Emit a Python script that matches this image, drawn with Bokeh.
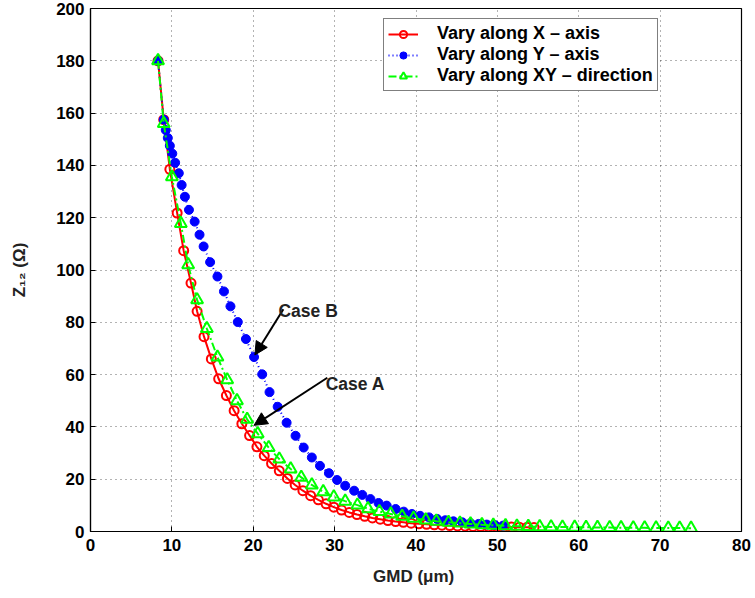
from bokeh.plotting import figure
from bokeh.models import Range1d, Legend, LegendItem, Arrow, NormalHead, Label, FixedTicker
from bokeh.embed import file_html
from bokeh.resources import INLINE

# ---- data ----
x_ticks = [0, 10, 20, 30, 40, 50, 60, 70, 80]
y_ticks = [0, 20, 40, 60, 80, 100, 120, 140, 160, 180, 200]

gmd_x = [8.3, 9.0, 9.75, 10.65, 11.45, 12.35, 13.1, 13.95, 14.85, 15.75, 16.7, 17.65, 18.6,
         19.55, 20.45, 21.35, 22.25, 23.2, 24.2, 25.15, 26.1, 27.05, 28.0, 28.95, 29.9, 30.85,
         31.8, 32.75, 33.7, 34.65, 35.6, 36.55, 37.5, 38.45, 39.4, 40.35, 41.3, 42.25, 43.2,
         44.15, 45.1, 46.05, 47.0, 47.95, 48.9, 49.85, 50.8, 51.75, 52.7, 53.65, 54.5]
z_x = [180, 157.5, 138.5, 121.8, 107.4, 95.0, 84.2, 74.5, 66.0, 58.4, 52.0, 46.2, 41.2,
       36.7, 32.4, 29.0, 26.0, 23.2, 20.3, 17.8, 15.6, 13.7, 12.1, 10.6, 9.3, 8.2,
       7.3, 6.5, 5.8, 5.2, 4.7, 4.2, 3.8, 3.5, 3.2, 2.95, 2.75, 2.55, 2.4,
       2.25, 2.15, 2.05, 1.95, 1.9, 1.85, 1.8, 1.75, 1.7, 1.65, 1.6, 1.55]

gmd_y = [8.3, 9.0, 9.25, 9.5, 9.75, 10.05, 10.4, 10.85, 11.2, 11.6, 12.1, 12.8, 13.4, 13.9,
         14.7, 15.6, 16.4, 17.2, 18.1, 19.1, 20.1, 21.1, 22.0, 23.0, 24.1, 25.2, 26.2, 27.2,
         28.2, 29.3, 30.3, 31.3, 32.4, 33.4, 34.4, 35.4, 36.4, 37.5, 38.5, 39.5, 40.5, 41.6,
         42.6, 43.6, 44.6, 45.7, 46.7, 47.7, 48.7, 49.7, 50.7]
z_y = [180, 157.5, 153.5, 150.5, 147.5, 144.5, 141.0, 137.0, 132.5, 128.0, 123.0, 118.5, 113.5, 109.0,
       103.0, 97.5, 91.8, 86.1, 80.1, 73.6, 66.7, 60.1, 53.3, 47.7, 41.6, 36.6, 32.1, 28.3,
       25.1, 22.3, 19.7, 17.5, 15.6, 14.0, 12.4, 10.9, 9.9, 8.6, 7.6, 6.7, 6.0, 5.4,
       4.8, 4.3, 3.9, 3.5, 3.2, 2.9, 2.65, 2.45, 2.25]

gmd_xy = [8.3, 9.0, 10.0, 11.1, 12.0, 13.1, 14.3, 15.6, 16.8, 18.0, 19.25, 20.55, 21.9, 23.2,
          24.6, 25.9, 27.2, 28.6, 29.9, 31.3, 32.8, 34.1, 35.5, 36.9, 38.3, 39.7, 41.2, 42.5,
          44.0, 45.4, 46.7, 48.1, 49.5, 51.0, 52.4, 53.8, 55.2, 56.6, 58.0, 59.5, 60.9, 62.3,
          63.8, 65.2, 66.7, 68.1, 69.5, 71.0, 72.4, 73.8]
z_xy = [180, 156.0, 135.6, 117.8, 102.0, 88.6, 77.6, 66.7, 58.0, 50.0, 42.9, 37.4, 32.1, 27.7,
        23.9, 20.7, 17.8, 15.2, 13.2, 11.6, 10.1, 8.7, 7.6, 6.7, 5.8, 5.1, 4.4, 3.9,
        3.5, 3.2, 2.9, 2.6, 2.4, 2.2, 2.0, 1.9, 1.8, 1.75, 1.7, 1.65, 1.6, 1.55,
        1.5, 1.45, 1.4, 1.4, 1.35, 1.3, 1.3, 1.25]

legend_labels = ["Vary along X \u2013 axis", "Vary along Y \u2013 axis", "Vary along XY \u2013 direction"]

FONT = "Liberation Sans"

p = figure(width=755, height=590, x_range=Range1d(0, 80), y_range=Range1d(0, 200),
           output_backend="svg", toolbar_location=None,
           min_border_left=90, min_border_right=14, min_border_top=8, min_border_bottom=59)
p.outline_line_color = "black"
p.outline_line_width = 1.2
p.background_fill_color = "white"
p.border_fill_color = "white"

for ax in (p.xaxis[0], p.yaxis[0]):
    ax.major_tick_in = 5
    ax.major_tick_out = 0
    ax.minor_tick_line_color = None
    ax.major_label_text_font = FONT
    ax.major_label_text_font_style = "bold"
    ax.major_label_text_font_size = "17px"
    ax.major_label_text_color = "black"
    ax.axis_line_color = "black"
    ax.axis_line_width = 1.2
    ax.major_tick_line_width = 1
    ax.axis_label_text_font = FONT
    ax.axis_label_text_font_style = "bold"
    ax.axis_label_text_font_size = "17px"
    ax.axis_label_text_color = "#222222"

p.xaxis[0].ticker = FixedTicker(ticks=x_ticks)
p.yaxis[0].ticker = FixedTicker(ticks=y_ticks)
p.xaxis[0].major_label_standoff = 7
p.yaxis[0].major_label_standoff = 6
p.xaxis[0].axis_label = "GMD  (\u03bcm)"
p.yaxis[0].axis_label = "Z\u2081\u2082 (\u03a9)"
p.xaxis[0].axis_label_standoff = 13
p.yaxis[0].axis_label_standoff = 24

p.xgrid.ticker = FixedTicker(ticks=x_ticks)
p.ygrid.ticker = FixedTicker(ticks=y_ticks)
for g in (p.xgrid, p.ygrid):
    g.grid_line_color = "black"
    g.grid_line_alpha = 0.6
    g.grid_line_dash = "1 4"
    g.grid_line_width = 1

# series
lx = p.line(gmd_x, z_x, line_color="red", line_width=2)
sx = p.scatter(gmd_x, z_x, marker="circle", size=9, fill_color=None, line_color="red", line_width=2)

ly = p.line(gmd_y, z_y, line_color="blue", line_width=2, line_dash="1 3")
sy = p.scatter(gmd_y, z_y, marker="circle", size=9, fill_color="blue", line_color="blue", line_width=1)

lxy = p.line(gmd_xy, z_xy, line_color="#00ff00", line_width=2, line_dash="8 3 2 3")
sxy = p.scatter(gmd_xy, z_xy, marker="triangle", size=12, fill_color=None, line_color="#00ff00", line_width=2)

# annotations
p.add_layout(Arrow(end=NormalHead(size=13, fill_color="black", line_color="black"),
                   x_start=23.7, y_start=85.0, x_end=20.2, y_end=67.5,
                   line_color="black", line_width=2))
p.add_layout(Arrow(end=NormalHead(size=13, fill_color="black", line_color="black"),
                   x_start=29.1, y_start=58.8, x_end=20.1, y_end=40.6,
                   line_color="black", line_width=2))
p.add_layout(Label(x=23.1, y=84.3, text="Case B", text_font=FONT, text_font_style="bold",
                   text_font_size="17.5px", text_color="#222222", text_baseline="alphabetic"))
p.add_layout(Label(x=28.9, y=56.4, text="Case A", text_font=FONT, text_font_style="bold",
                   text_font_size="17.5px", text_color="#222222", text_baseline="alphabetic"))

legend = Legend(items=[LegendItem(label=legend_labels[0], renderers=[lx, sx]),
                       LegendItem(label=legend_labels[1], renderers=[ly, sy]),
                       LegendItem(label=legend_labels[2], renderers=[lxy, sxy])],
                location=(293, 440))
legend.border_line_color = "black"
legend.border_line_width = 1.5
legend.background_fill_color = "white"
legend.background_fill_alpha = 1
legend.label_text_font = FONT
legend.label_text_font_style = "bold"
legend.label_text_font_size = "18px"
legend.label_text_color = "black"
legend.glyph_width = 30
legend.glyph_height = 18
legend.label_height = 18
legend.label_standoff = 19
legend.spacing = 0
legend.padding = 4
legend.margin = 0
p.add_layout(legend)

open("out.html", "w").write(file_html(p, INLINE))
